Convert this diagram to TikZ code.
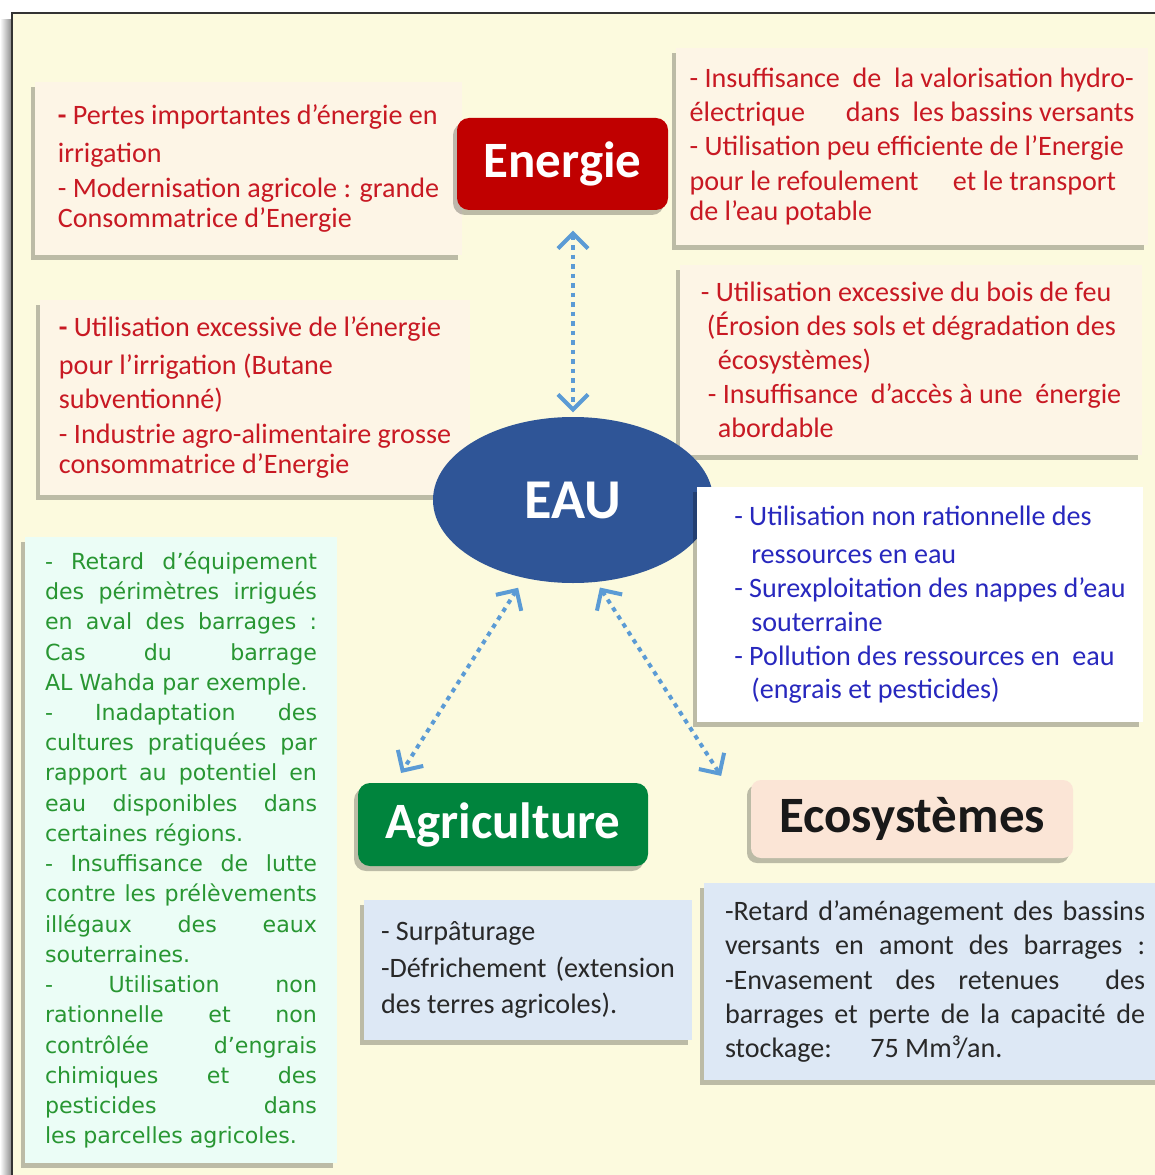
\documentclass[tikz,border=0pt]{standalone}
\usepackage{fontspec}
\setmainfont{Carlito}
\newfontfamily\vfont{DejaVu Sans}
\usetikzlibrary{arrows.meta,shadows,calc,shapes.geometric}
\definecolor{bgcream}{RGB}{252,250,222}
\definecolor{boxpeach}{RGB}{253,245,230}
\definecolor{mint}{RGB}{235,253,246}
\definecolor{lightblue}{RGB}{221,232,245}
\definecolor{headred}{RGB}{192,0,0}
\definecolor{agrigreen}{RGB}{0,132,61}
\definecolor{ecopeach}{RGB}{251,229,214}
\definecolor{eaublue}{RGB}{47,85,151}
\definecolor{arrowblue}{RGB}{91,155,213}
\definecolor{redtxt}{RGB}{200,25,35}
\definecolor{bluetxt}{RGB}{40,40,190}
\definecolor{greentxt}{RGB}{40,150,50}
\definecolor{greytxt}{RGB}{40,40,40}
\newcommand{\loosejust}{\tolerance=10000\relax\hyphenpenalty=10000\relax}

\begin{document}
\begin{tikzpicture}[
  every node/.style={font=\fontsize{8}{9.7}\selectfont},
  boxshadow/.style={drop shadow={shadow xshift=-0.04cm, shadow yshift=-0.05cm, opacity=0.25, fill=black}},
  infobox/.style={fill=boxpeach, text=redtxt, align=left, inner sep=0pt, boxshadow},
  headbox/.style={rounded corners=0.12cm, text=white, inner sep=0pt, font=\fontsize{14.5}{17}\selectfont\bfseries, boxshadow},
  biarrow/.style={{Straight Barb[length=0.15cm,width=0.3cm]}-{Straight Barb[length=0.15cm,width=0.3cm]}, arrowblue, line width=0.04cm, dash pattern=on 0.045cm off 0.05cm}
]
  \useasboundingbox (0,0) rectangle (11.55,-11.75);
  % page frame
  \shade[left color=white, right color=black!45] (0,-0.2) rectangle (0.115,-11.75);
  \fill[bgcream] (0.12,-0.13) rectangle (11.6,-11.8);
  \draw[black!80, line width=0.02cm] (0.12,-11.8) -- (0.12,-0.13) -- (11.6,-0.13);

  % energie side
  \node[infobox, minimum width=4.27cm, minimum height=1.73cm] (perteA) at (2.485,-1.685) {\textbf{-} Pertes importantes d’énergie en\\[0.04cm] irrigation\\ - Modernisation agricole : grande\\[-0.04cm] Consommatrice d’Energie};
  \node[infobox, minimum width=4.72cm, minimum height=1.97cm] (perteB) at (9.12,-1.465) {- Insuffisance \ de \ la valorisation hydro-\\ électrique \quad\ dans \ les bassins versants\\ - Utilisation peu efficiente de l’Energie\\ pour le refoulement \quad et le transport\\[-0.04cm] de l’eau potable};
  \node[infobox, minimum width=4.30cm, minimum height=1.95cm] (perteC) at (2.55,-3.975) {\textbf{-} Utilisation excessive de l’énergie\\[0.04cm] pour l’irrigation (Butane\\ subventionné)\\ - Industrie agro-alimentaire grosse\\[-0.04cm] consommatrice d’Energie};
  \node[infobox, minimum width=4.62cm, minimum height=1.90cm] (perteD) at (9.11,-3.60) {- Utilisation excessive du bois de feu\\ \hspace*{0.06cm}(Érosion des sols et dégradation des\\ \hspace*{0.17cm}écosystèmes)\\ \hspace*{0.07cm}- Insuffisance \ d’accès à une \ énergie\\ \hspace*{0.17cm}abordable};
  \node[headbox, fill=headred, minimum width=2.11cm, minimum height=0.92cm] (energie) at (5.625,-1.64) {Energie};

  % eau
  \node[ellipse, fill=eaublue, text=white, minimum width=2.80cm, minimum height=1.66cm, inner sep=0pt, font=\fontsize{16}{19}\selectfont\bfseries] (eau) at (5.73,-5.00) {EAU};
  \node[infobox, fill=white, text=bluetxt, minimum width=4.46cm, minimum height=2.35cm] (eauB) at (9.20,-6.045) {\hspace*{0.2cm}- Utilisation non rationnelle des\\[0.04cm] \hspace*{0.37cm}ressources en eau\\ \hspace*{0.2cm}- Surexploitation des nappes d’eau\\ \hspace*{0.37cm}souterraine\\ \hspace*{0.2cm}- Pollution des ressources en \ eau\\[-0.02cm] \hspace*{0.37cm}(engrais et pesticides)};

  % agriculture side
  \node[infobox, fill=mint, text=greentxt, align=justify, text width=2.72cm, minimum width=3.12cm, minimum height=6.26cm, font=\vfont\fontsize{6.3}{8.6}\selectfont] (agA) at (1.81,-8.50) {\loosejust - Retard d’équipement\linebreak des périmètres irrigués\linebreak en aval des barrages :\linebreak Cas du barrage\linebreak AL Wahda par exemple.\par - Inadaptation des\linebreak cultures pratiquées par\linebreak rapport au potentiel en\linebreak eau disponibles dans\linebreak certaines régions.\par - Insuffisance de lutte\linebreak contre les prélèvements\linebreak illégaux des eaux\linebreak souterraines.\par - Utilisation non\linebreak rationnelle et non\linebreak contrôlée d’engrais\linebreak chimiques et des\linebreak pesticides dans\linebreak les parcelles agricoles.};
  \node[headbox, fill=agrigreen, minimum width=2.90cm, minimum height=0.83cm] (agri) at (5.03,-8.245) {Agriculture};
  \node[infobox, fill=lightblue, text=greytxt, align=justify, text width=2.94cm, minimum width=3.28cm, minimum height=1.40cm, font=\fontsize{8}{10.5}\selectfont] (agB) at (5.28,-9.70) {\loosejust - Surpâturage\par -Défrichement \ (extension\linebreak des terres agricoles).};

  % ecosystemes side
  \node[headbox, fill=ecopeach, text=black!90, minimum width=3.22cm, minimum height=0.78cm, rounded corners=0.1cm] (eco) at (9.12,-8.19) {Ecosystèmes};
  \node[infobox, fill=lightblue, text=greytxt, align=justify, text width=4.20cm, minimum width=4.62cm, minimum height=1.97cm] (ecoB) at (9.35,-9.815) {\loosejust -Retard d’aménagement des bassins\linebreak versants en amont des barrages :\linebreak -Envasement des retenues \ des\linebreak barrages et perte de la capacité de\linebreak stockage: \hspace{0.3cm}75 Mm³/an.};

  % links
  \draw[biarrow, shorten <=0.2cm, shorten >=0.04cm] (eau.north |- energie.south) -- (eau.north);
  \draw[biarrow, shorten <=0.11cm, shorten >=0.11cm] (eau.238) -- ($(agri.north west)!0.13!(agri.north east)$);
  \draw[biarrow, shorten <=0.06cm, shorten >=0.04cm] (eau.286) -- ([xshift=-0.27cm]eco.north west);
\end{tikzpicture}
\end{document}
